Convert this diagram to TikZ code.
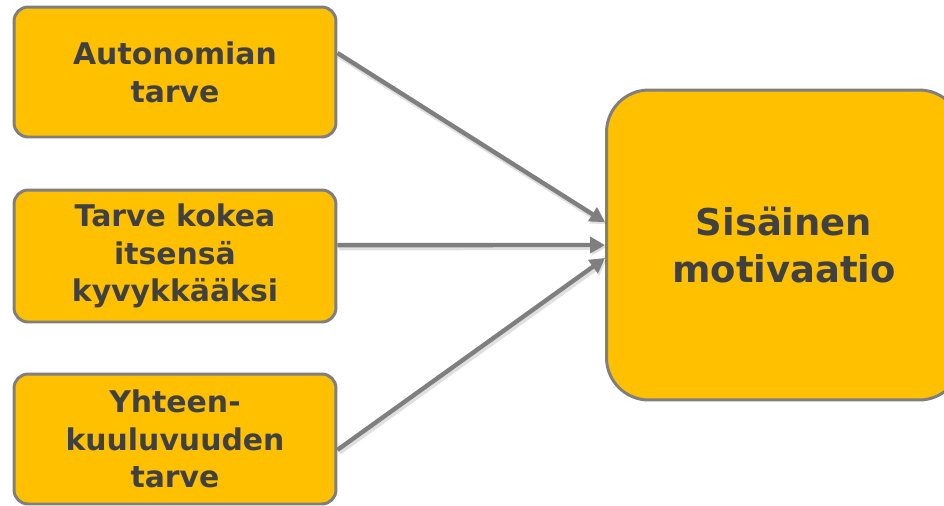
\documentclass[tikz,border=0pt]{standalone}
\usepackage{fontspec}
\setmainfont{DejaVu Sans}
\usetikzlibrary{arrows.meta,positioning}
\definecolor{keltainen}{HTML}{FFC000}
\definecolor{reuna}{HTML}{7F7F7F}
\definecolor{teksti}{HTML}{404040}
\begin{document}
\begin{tikzpicture}[
    x=0.02cm, y=-0.02cm,
    box/.style={draw=reuna, line width=1.7pt, fill=keltainen, rounded corners=8pt, minimum width=6.44cm, minimum height=2.6cm, align=center, text=teksti, font=\fontsize{17}{21.5}\selectfont\bfseries},
    bigbox/.style={box, rounded corners=24pt, minimum width=7.1cm, minimum height=6.2cm, font=\fontsize{21}{27}\selectfont\bfseries},
    arr/.style={-{Triangle[length=8.5pt, width=9pt]}, draw=reuna, line width=2.5pt,
        preaction={draw=black, opacity=0.12, line width=3.5pt, transform canvas={shift={(0.8pt,-1.2pt)}}}}
]
\useasboundingbox (0,0) rectangle (944,505);
\node[box] (auto) at (175,72) {Autonomian\\tarve};
\node[box, minimum height=2.64cm] (komp) at (175,256) {Tarve kokea\\itsensä\\kyvykkääksi};
\node[box] (yht) at (175,439) {Yhteen-\\kuuluvuuden\\tarve};
\node[bigbox] (motiv) at (784,245) {Sisäinen\\motivaatio};

\draw[arr] ([yshift=10.8pt]auto.east) -- ([yshift=13pt]motiv.west);
\draw[arr] ([yshift=6.2pt]komp.east) -- (motiv.west);
\draw[arr] ([yshift=-6.2pt]yht.east) -- ([yshift=-7.4pt]motiv.west);
\end{tikzpicture}
\end{document}
